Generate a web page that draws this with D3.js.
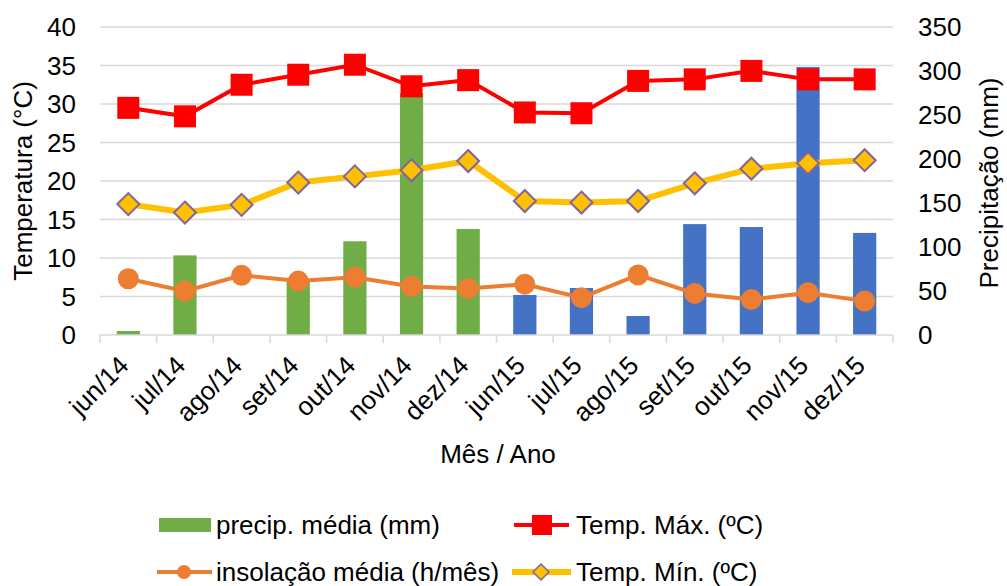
<!DOCTYPE html>
<html><head><meta charset="utf-8">
<script src="https://cdn.jsdelivr.net/npm/d3@7"></script>
<style>body{margin:0;background:#fff}svg{display:block;font-family:"Liberation Sans",Arial,sans-serif}</style>
</head><body><svg id="c" width="1007" height="586"></svg>
<script>
const months = ["jun/14","jul/14","ago/14","set/14","out/14","nov/14","dez/14","jun/15","jul/15","ago/15","set/15","out/15","nov/15","dez/15"];
const precip = [4.5,90.5,0,62,106.5,275,120.5,45.5,53.4,21.6,126,122.7,304.5,116];
const tempMax = [29.5,28.4,32.5,33.8,35.1,32.3,33.1,28.9,28.8,33.0,33.2,34.3,33.2,33.2];
const tempMin = [17.0,15.9,16.9,19.8,20.6,21.4,22.6,17.4,17.2,17.4,19.7,21.6,22.3,22.7];
const insol = [7.3,5.7,7.75,7.0,7.5,6.3,6.05,6.6,4.85,7.8,5.4,4.6,5.5,4.4];
const leftTicks = [0,5,10,15,20,25,30,35,40];
const rightTicks = [0,50,100,150,200,250,300,350];

const svg = d3.select("#c");
const L=100, R=893, T=27, B=335;
const x = d3.scaleBand().domain(months).range([L,R]);
const yL = d3.scaleLinear().domain([0,40]).range([B,T]);
const yR = d3.scaleLinear().domain([0,350]).range([B,T]);
const fs = 26;

// gridlines
svg.append("g").selectAll("line").data(leftTicks.slice(1)).join("line")
  .attr("x1",L).attr("x2",R).attr("y1",d=>yL(d)).attr("y2",d=>yL(d))
  .attr("stroke","#d9d9d9").attr("stroke-width",1.3);

// bars
const bw = x.bandwidth()*0.41;
svg.append("g").selectAll("rect").data(months).join("rect")
  .attr("x",d=>x(d)+x.bandwidth()/2-bw/2).attr("width",bw)
  .attr("y",(d,i)=>yR(precip[i])).attr("height",(d,i)=>B-yR(precip[i]))
  .attr("fill",(d,i)=>d.endsWith("14")?"#70AD47":"#4472C4");

// x axis
const xa = svg.append("g").attr("transform",`translate(0,${B})`);
xa.append("line").attr("x1",L).attr("x2",R).attr("stroke","#d9d9d9").attr("stroke-width",1.5);
const bounds = months.map(m=>x(m)).concat([R]);
xa.selectAll("line.t").data(bounds).join("line").attr("class","t")
  .attr("x1",d=>d).attr("x2",d=>d).attr("y1",0).attr("y2",8).attr("stroke","#d9d9d9").attr("stroke-width",1.5);
xa.selectAll("text").data(months).join("text")
  .attr("transform",d=>`translate(${x(d)+x.bandwidth()/2+2},${32}) rotate(-45)`)
  .attr("text-anchor","end").attr("font-size",fs).attr("fill","#000").text(d=>d);

// y axes labels
svg.append("g").selectAll("text").data(leftTicks).join("text")
  .attr("x",76).attr("y",d=>yL(d)).attr("dy","0.35em").attr("text-anchor","end")
  .attr("font-size",fs).text(d=>d);
svg.append("g").selectAll("text").data(rightTicks).join("text")
  .attr("x",918).attr("y",d=>yR(d)).attr("dy","0.35em").attr("text-anchor","start")
  .attr("font-size",fs).text(d=>d);

svg.append("text").attr("transform","translate(32,181) rotate(-90)").attr("text-anchor","middle")
  .attr("font-size",fs).text("Temperatura (°C)");
svg.append("text").attr("transform","translate(998,183) rotate(-90)").attr("text-anchor","middle")
  .attr("font-size",fs).text("Precipitação (mm)");
svg.append("text").attr("x",498).attr("y",463).attr("text-anchor","middle").attr("font-size",fs).text("Mês / Ano");

const cx = d=>x(d)+x.bandwidth()/2;
// insolation
svg.append("path").datum(insol).attr("fill","none").attr("stroke","#ED7D31").attr("stroke-width",4)
  .attr("d",d3.line().x((d,i)=>cx(months[i])).y(d=>yL(d)));
svg.append("g").selectAll("circle").data(insol).join("circle")
  .attr("cx",(d,i)=>cx(months[i])).attr("cy",d=>yL(d)).attr("r",10.5).attr("fill","#ED7D31");
// temp max
svg.append("path").datum(tempMax).attr("fill","none").attr("stroke","#FF0000").attr("stroke-width",4)
  .attr("d",d3.line().x((d,i)=>cx(months[i])).y(d=>yL(d)));
svg.append("g").selectAll("rect").data(tempMax).join("rect")
  .attr("x",(d,i)=>cx(months[i])-11).attr("y",d=>yL(d)-11).attr("width",22).attr("height",22).attr("fill","#FF0000");
// temp min
svg.append("path").datum(tempMin).attr("fill","none").attr("stroke","#FFC000").attr("stroke-width",6)
  .attr("d",d3.line().x((d,i)=>cx(months[i])).y(d=>yL(d)));
svg.append("g").selectAll("path.dm").data(tempMin).join("path").attr("class","dm")
  .attr("d",(d,i)=>{const px=cx(months[i]),py=yL(d),s=11;return `M${px},${py-s}L${px+s},${py}L${px},${py+s}L${px-s},${py}Z`;})
  .attr("fill","#FFC000").attr("stroke","#8064A2").attr("stroke-width",2);

// legend
const lg = svg.append("g").attr("font-size",fs);
lg.append("rect").attr("x",159).attr("y",518).attr("width",52).attr("height",14).attr("fill","#70AD47");
lg.append("text").attr("x",216).attr("y",525).attr("dy","0.35em").text("precip. média (mm)");
lg.append("line").attr("x1",514).attr("x2",569).attr("y1",525).attr("y2",525).attr("stroke","#FF0000").attr("stroke-width",4);
lg.append("rect").attr("x",532).attr("y",515).attr("width",20).attr("height",20).attr("fill","#FF0000");
lg.append("text").attr("x",576).attr("y",525).attr("dy","0.35em").text("Temp. Máx. (ºC)");
lg.append("line").attr("x1",157).attr("x2",212).attr("y1",572).attr("y2",572).attr("stroke","#ED7D31").attr("stroke-width",4);
lg.append("circle").attr("cx",184).attr("cy",572).attr("r",7).attr("fill","#ED7D31");
lg.append("text").attr("x",216).attr("y",572).attr("dy","0.35em").text("insolação média (h/mês)");
lg.append("line").attr("x1",512).attr("x2",571).attr("y1",572).attr("y2",572).attr("stroke","#FFC000").attr("stroke-width",6);
lg.append("path").attr("d","M541,564L549,572L541,580L533,572Z").attr("fill","#FFC000").attr("stroke","#8064A2").attr("stroke-width",1.5);
lg.append("text").attr("x",576).attr("y",572).attr("dy","0.35em").text("Temp. Mín. (ºC)");
</script></body></html>
